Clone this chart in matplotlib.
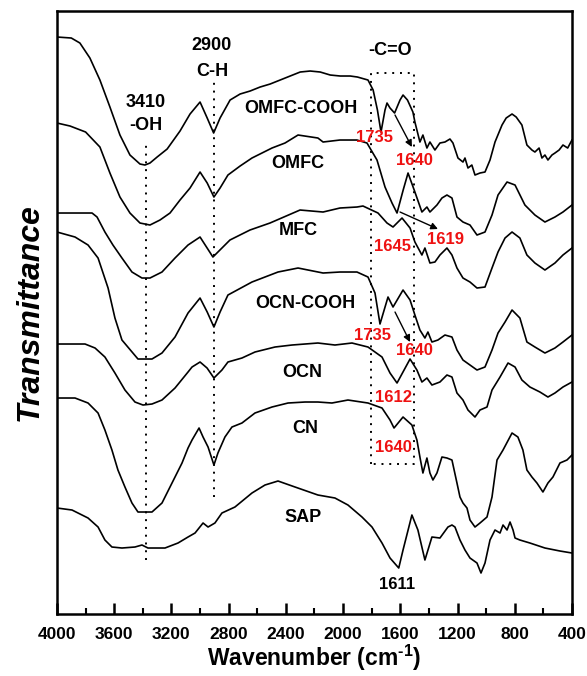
import numpy as np
import matplotlib.pyplot as plt

plt.rcParams['font.family'] = ['Liberation Sans', 'DejaVu Sans']
plt.rcParams['font.weight'] = 'bold'
plt.rcParams['mathtext.fontset'] = 'custom'
plt.rcParams['mathtext.rm'] = 'Liberation Sans:bold'

# FTIR spectra, transmittance in arbitrary units (stacked)
wn_omfc_cooh = [4000, 3900, 3840, 3770, 3700, 3630, 3560, 3490, 3420, 3385, 3350, 3300, 3230, 3140, 3070,
                3000, 2950, 2905, 2860, 2790, 2720, 2650, 2580, 2510, 2440, 2370, 2300, 2230, 2160, 2090,
                2020, 1950, 1900, 1826, 1790, 1760, 1735, 1707, 1693, 1672, 1640, 1602, 1581, 1550, 1512,
                1498, 1463, 1442, 1414, 1393, 1358, 1323, 1288, 1253, 1232, 1197, 1162, 1148, 1127, 1100,
                1078, 1043, 1008, 973, 938, 889, 860, 819, 790, 750, 715, 680, 659, 630, 610,
                589, 568, 540, 519, 490, 463, 430, 400]
t_omfc_cooh = [577, 576, 571, 556, 534, 507, 479, 459, 450, 449, 451, 457, 465, 483, 500,
               512, 496, 481, 496, 514, 520, 523, 527, 530, 534, 538, 542, 543, 542, 539,
               538, 538, 537, 534, 524, 504, 482, 504, 511, 506, 501, 514, 519, 514, 502,
               492, 472, 479, 466, 472, 464, 471, 472, 475, 471, 456, 452, 456, 446, 449,
               439, 441, 442, 454, 472, 489, 496, 500, 497, 489, 469, 464, 462, 466, 456,
               459, 454, 459, 461, 464, 469, 466, 474]

wn_omfc = [4000, 3909, 3800, 3700, 3630, 3560, 3490, 3420, 3350, 3280, 3210, 3140, 3070, 3000, 2950,
           2903, 2860, 2805, 2720, 2637, 2497, 2406, 2315, 2176, 2140, 2022, 1903, 1833, 1763, 1707,
           1658, 1623, 1580, 1546, 1498, 1449, 1414, 1393, 1344, 1309, 1274, 1239, 1204, 1162, 1113,
           1064, 1008, 959, 917, 854, 798, 729, 659, 589, 519, 463, 400]
t_omfc = [491, 488, 482, 467, 441, 417, 401, 391, 389, 394, 401, 414, 426, 442, 431,
          417, 426, 439, 448, 456, 466, 471, 479, 476, 472, 474, 474, 471, 454, 427,
          411, 401, 424, 441, 422, 402, 407, 402, 409, 416, 419, 416, 397, 392, 389,
          379, 382, 399, 419, 432, 429, 409, 399, 392, 397, 402, 409]

wn_mfc = [4000, 3755, 3720, 3665, 3609, 3546, 3476, 3406, 3350, 3266, 3175, 3084, 3000, 2910, 2791,
          2651, 2511, 2301, 2140, 2022, 1903, 1861, 1756, 1693, 1651, 1588, 1532, 1498, 1449, 1428,
          1393, 1358, 1323, 1274, 1239, 1204, 1162, 1113, 1064, 1008, 959, 917, 868, 819, 764,
          715, 659, 589, 519, 463, 400]
t_mfc = [401, 401, 397, 382, 369, 356, 342, 336, 336, 342, 356, 369, 377, 357, 374,
         384, 391, 404, 402, 406, 407, 408, 401, 391, 387, 396, 386, 372, 359, 366,
         351, 352, 359, 366, 359, 346, 336, 332, 326, 327, 346, 362, 376, 382, 376,
         359, 351, 344, 351, 359, 366]

wn_ocn_cooh = [4000, 3874, 3783, 3713, 3643, 3595, 3546, 3434, 3336, 3266, 3175, 3084, 3000, 2950, 2903,
               2860, 2805, 2637, 2455, 2315, 2140, 2022, 1903, 1826, 1777, 1742, 1686, 1651, 1581, 1532,
               1498, 1463, 1428, 1407, 1379, 1337, 1288, 1239, 1204, 1162, 1113, 1064, 1008, 959, 917,
               868, 819, 764, 715, 659, 589, 519, 463, 400]
t_ocn_cooh = [382, 377, 369, 356, 326, 296, 274, 255, 255, 261, 277, 301, 316, 302, 287,
              302, 319, 332, 342, 346, 341, 342, 342, 337, 321, 290, 317, 307, 324, 314,
              299, 284, 276, 282, 272, 274, 279, 277, 264, 254, 249, 244, 247, 264, 281,
              292, 304, 296, 272, 267, 261, 266, 272, 279]

wn_ocn = [4000, 3804, 3734, 3665, 3595, 3525, 3455, 3399, 3336, 3266, 3175, 3084, 3056, 3000, 2951,
          2903, 2847, 2805, 2707, 2616, 2476, 2357, 2176, 2057, 1938, 1826, 1728, 1672, 1623, 1532,
          1484, 1449, 1414, 1379, 1323, 1274, 1239, 1204, 1162, 1127, 1078, 1043, 994, 959, 903,
          847, 798, 750, 694, 624, 568, 519, 463, 400]
t_ocn = [270, 270, 266, 257, 241, 224, 212, 209, 210, 214, 226, 242, 247, 252, 246,
         236, 244, 252, 256, 262, 267, 269, 271, 269, 271, 267, 257, 241, 231, 255,
         244, 232, 236, 229, 232, 239, 237, 221, 214, 204, 197, 204, 207, 224, 237,
         251, 247, 234, 227, 222, 217, 221, 227, 232]

wn_cn = [4000, 3874, 3783, 3713, 3665, 3616, 3574, 3525, 3476, 3434, 3336, 3266, 3196, 3126, 3084,
         3056, 3007, 2979, 2944, 2903, 2875, 2826, 2777, 2707, 2616, 2497, 2385, 2266, 2176, 2078,
         1966, 1826, 1728, 1672, 1644, 1581, 1519, 1484, 1463, 1442, 1414, 1393, 1372, 1344, 1309,
         1274, 1239, 1204, 1183, 1162, 1134, 1113, 1078, 1043, 994, 959, 924, 882, 819, 778,
         743, 715, 680, 645, 603, 568, 533, 484, 435, 400]
t_cn = [216, 216, 211, 201, 184, 164, 144, 127, 111, 102, 102, 111, 131, 151, 166,
        174, 186, 177, 167, 149, 161, 177, 187, 191, 201, 207, 211, 212, 212, 211,
        214, 211, 206, 194, 186, 197, 189, 174, 157, 141, 156, 141, 134, 141, 157,
        156, 154, 131, 117, 111, 106, 94, 87, 91, 97, 117, 154, 164, 181, 177,
        164, 144, 137, 131, 122, 131, 137, 151, 154, 159]

wn_sap = [4000, 3895, 3783, 3713, 3665, 3616, 3546, 3455, 3406, 3364, 3245, 3154, 3084, 3035, 2979,
          2944, 2896, 2847, 2756, 2637, 2546, 2455, 2336, 2176, 2057, 1966, 1868, 1798, 1728, 1672,
          1611, 1581, 1519, 1477, 1428, 1379, 1323, 1267, 1239, 1218, 1183, 1148, 1113, 1064, 1036,
          1008, 973, 938, 903, 882, 854, 833, 812, 798, 764, 694, 589, 484, 400]
t_sap = [106, 104, 96, 87, 74, 67, 66, 67, 69, 66, 66, 71, 77, 81, 91,
         87, 91, 101, 107, 121, 129, 133, 127, 119, 116, 109, 97, 87, 71, 56,
         46, 64, 99, 84, 54, 77, 76, 87, 89, 87, 74, 64, 56, 51, 41,
         51, 74, 84, 81, 89, 84, 92, 84, 76, 74, 71, 66, 63, 61]

names = ['OMFC-COOH', 'OMFC', 'MFC', 'OCN-COOH', 'OCN', 'CN', 'SAP']
name_pos = [(2294, 506), (2315, 451), (2315, 384), (2266, 311), (2287, 242), (2266, 186), (2280, 97)]

fig = plt.figure(figsize=(5.87, 6.76), dpi=100)
ax = fig.add_axes([0.0971, 0.0917, 0.8773, 0.892])

for wn, t in [(wn_omfc_cooh, t_omfc_cooh), (wn_omfc, t_omfc), (wn_mfc, t_mfc),
              (wn_ocn_cooh, t_ocn_cooh), (wn_ocn, t_ocn), (wn_cn, t_cn), (wn_sap, t_sap)]:
    ax.plot(wn, t, color='black', lw=1.2)

for name, (x, y) in zip(names, name_pos):
    ax.text(x, y, name, ha='center', va='center', fontsize=13, fontweight='bold')

# band guides
dot = (0, (1, 3))
ax.plot([3375, 3375], [54, 474], color='black', lw=1.4, ls=dot)
ax.plot([2903, 2903], [117, 534], color='black', lw=1.4, ls=dot)
ax.plot([1807, 1807, 1505, 1505, 1807], [150, 541, 541, 150, 150], color='black', lw=1.4, ls=dot)

ax.text(3378, 512, '3410', ha='center', va='center', fontsize=13)
ax.text(3378, 489, '-OH', ha='center', va='center', fontsize=13)
ax.text(2917, 569, '2900', ha='center', va='center', fontsize=13)
ax.text(2917, 543, 'C-H', ha='center', va='center', fontsize=13)
ax.text(1672, 564, '-C=O', ha='center', va='center', fontsize=13)
ax.text(1623, 30, '1611', ha='center', va='center', fontsize=12)

red = '#ee1111'
for label, x, y in [('1735', 1777, 477), ('1640', 1498, 454), ('1645', 1658, 368), ('1619', 1281, 375),
                    ('1735', 1791, 279), ('1640', 1498, 264), ('1612', 1651, 217), ('1640', 1651, 167)]:
    ax.text(x, y, label, ha='center', va='center', fontsize=12, color=red)

arrow = dict(arrowstyle='-|>', color='black', lw=1.0, mutation_scale=10, shrinkA=0, shrinkB=0)
ax.annotate('', xy=(1519, 467), xytext=(1637, 499), arrowprops=arrow)
ax.annotate('', xy=(1337, 385), xytext=(1602, 402), arrowprops=arrow)
ax.annotate('', xy=(1532, 272), xytext=(1637, 302), arrowprops=arrow)

ax.set_xlim(4000, 400)
ax.set_ylim(0, 603)
ax.set_xticks(np.arange(4000, 399, -400))
ax.set_xticks(np.arange(3800, 400, -400), minor=True)
ax.set_yticks([])
ax.tick_params(axis='x', which='major', direction='in', length=8, width=1.8, labelsize=12.5, pad=9)
ax.tick_params(axis='x', which='minor', direction='in', length=4, width=1.5)
for s in ax.spines.values():
    s.set_linewidth(1.8)

ax.set_xlabel(r'Wavenumber (cm$^{\text{-1}}$)', fontsize=16.5, fontweight='bold', labelpad=1)
ax.set_ylabel('Transmittance', fontsize=23, fontweight='bold', style='italic', labelpad=9)

fig.savefig('out.png', dpi=100)
